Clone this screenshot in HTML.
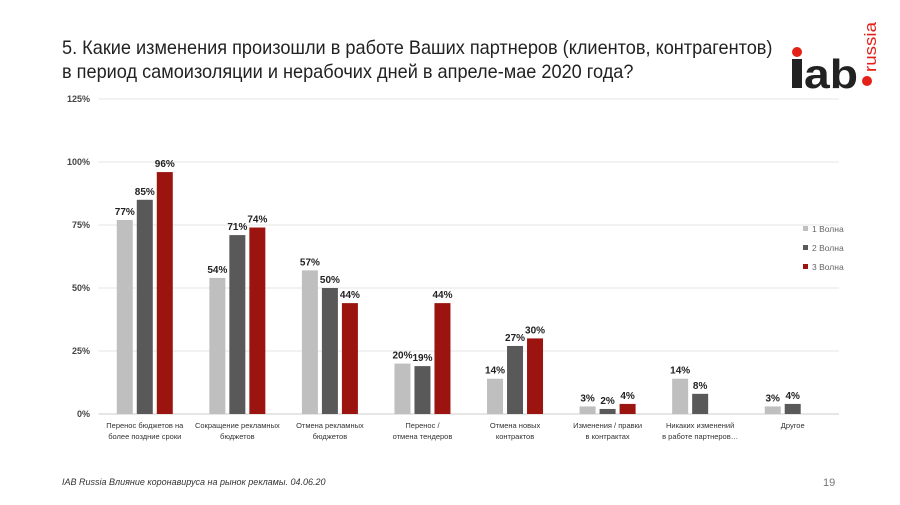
<!DOCTYPE html>
<html><head><meta charset="utf-8">
<style>
body{margin:0;width:900px;height:505px;background:#fff;font-family:"Liberation Sans",sans-serif;overflow:hidden;position:relative}
.title{position:absolute;left:62px;top:36px;font-size:19.5px;line-height:24px;color:#222;white-space:nowrap;transform:scaleX(0.93);transform-origin:0 0}
.foot{position:absolute;left:62px;top:477px;font-size:9px;font-style:italic;color:#333}
.pg{position:absolute;left:823px;top:477px;font-size:11px;color:#777}
</style></head><body>
<div class="title">5. Какие изменения произошли в работе Ваших партнеров (клиентов, контрагентов)<br>в период самоизоляции и нерабочих дней в апреле-мае 2020 года?</div>
<svg style="position:absolute;left:0;top:0" width="900" height="100">
<circle cx="797" cy="52" r="5" fill="#e32119"/>
<rect x="792" y="59" width="10" height="29" fill="#222"/>
<text x="804" y="88" font-size="41" font-weight="bold" fill="#222" font-family="Liberation Sans" textLength="54" lengthAdjust="spacingAndGlyphs">ab</text>
<circle cx="867" cy="81" r="5" fill="#e32119"/>
<text transform="translate(876,72) rotate(-90)" font-size="17" fill="#e32119" font-family="Liberation Sans" textLength="50" lengthAdjust="spacingAndGlyphs">russia</text>
</svg>
<svg id="chart" width="900" height="505" style="position:absolute;left:0;top:0"></svg>
<div class="foot">IAB Russia Влияние коронавируса на рынок рекламы. 04.06.20</div>
<div class="pg">19</div>
<script>
const categories=[["Перенос бюджетов на","более поздние сроки"],["Сокращение рекламных","бюджетов"],["Отмена рекламных","бюджетов"],["Перенос /","отмена тендеров"],["Отмена новых","контрактов"],["Изменения / правки","в контрактах"],["Никаких изменений","в работе партнеров…"],["Другое"]];
const wave1=[77,54,57,20,14,3,14,3];
const wave2=[85,71,50,19,27,2,8,4];
const wave3=[96,74,44,44,30,4,null,null];
const seriesNames=["1 Волна","2 Волна","3 Волна"];
const ticks=[0,25,50,75,100,125];
const tickLabels=["0%","25%","50%","75%","100%","125%"];
const NS="http://www.w3.org/2000/svg";
const svg=document.getElementById('chart');
const x0=98.5,x1=839,y0=414,yTop=99;
const y=v=>y0-(v/125)*(y0-yTop);
const bw=(x1-x0)/categories.length;
const cx=i=>x0+bw*(i+0.5);
const colors=["#bfbfbf","#595959","#9b1410"];
function mk(t,a){const e=document.createElementNS(NS,t);for(const k in a)e.setAttribute(k,a[k]);svg.appendChild(e);return e;}
ticks.forEach((t,i)=>{
 const g=mk('line',{x1:x0,x2:x1,y1:y(t),y2:y(t),stroke:t===0?'#ccc':'#e4e4e4','stroke-width':1});
 
 
 const l=mk('text',{x:90,y:y(t)+3,'text-anchor':'end','font-size':9,'font-weight':'bold',fill:'#444'});
 l.textContent=tickLabels[i];
 
 
});
[wave1,wave2,wave3].forEach((s,si)=>{
 s.forEach((v,i)=>{
  if(v==null)return;
  const bx=cx(i)-28+si*20;
  const r=mk('rect',{x:bx,y:y(v),width:16,height:y0-y(v),fill:colors[si]});
  
  
  const t=mk('text',{x:bx+8,y:y(v)-5,'text-anchor':'middle','font-size':10,'font-weight':'bold',fill:'#222'});
  t.textContent=v+'%';
  
  
 });
});
categories.forEach((c,i)=>{
 c.forEach((ln,j)=>{
  const t=mk('text',{x:cx(i),y:428+j*11,'text-anchor':'middle','font-size':7.5,fill:'#333'});
  t.textContent=ln;
  
  
 });
});
seriesNames.forEach((n,i)=>{
 const r=mk('rect',{x:803,y:226+i*19,width:5,height:5,fill:colors[i]});
 
 
 const t=mk('text',{x:812,y:232+i*19,'font-size':8.5,fill:'#666'});
 t.textContent=n;
 
 
});
</script>
</body></html>
